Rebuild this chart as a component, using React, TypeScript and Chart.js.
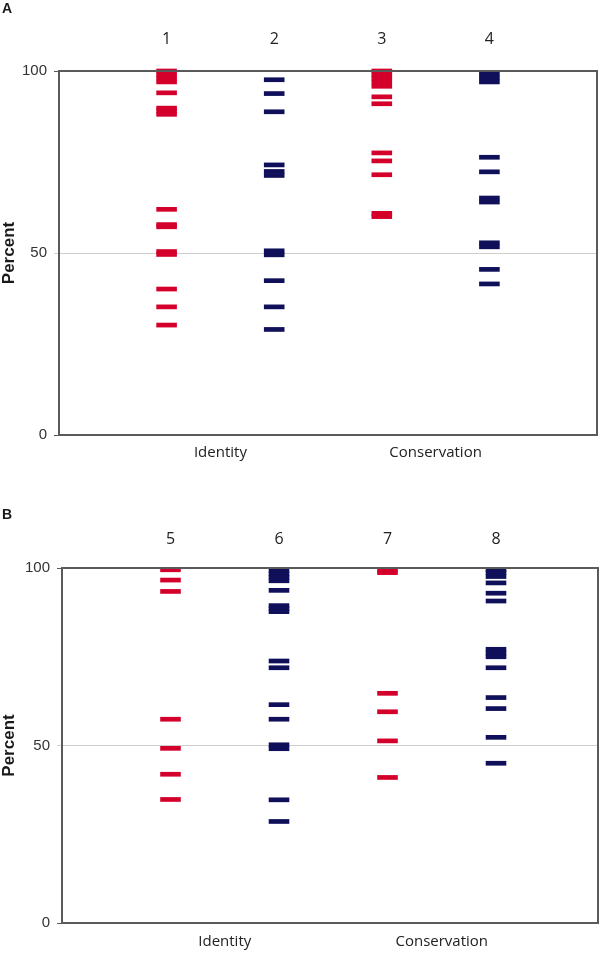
import React, { useEffect, useRef } from 'react';
import Chart from 'chart.js/auto';

// ---- data ----
const RED = '#d4002b';
const NAVY = '#10105a';

const col1 = [100, 99, 98, 97, 94.0, 89.8, 89.0, 88.1, 62.0, 57.8, 57.2, 50.4, 49.6, 40.1, 35.2, 30.2];
const col2 = [97.6, 93.8, 88.8, 74.2, 72.4, 71.3, 50.6, 49.5, 42.4, 35.2, 29.0];
const col3 = [100, 99, 98, 97, 95.8, 92.9, 91.0, 77.5, 75.3, 71.5, 60.9, 60.0];
const col4 = [99.2, 98.1, 97.0, 76.3, 72.3, 65.1, 64.0, 52.8, 51.7, 45.5, 41.5];

const col5 = [99.5, 96.6, 93.4, 57.4, 49.2, 41.9, 34.8];
const col6 = [99.3, 98.3, 97.4, 96.4, 93.7, 89.4, 88.55, 87.7, 73.8, 71.9, 61.5, 57.4, 50.2, 49.1, 34.7, 28.6];
const col7 = [99.5, 98.7, 64.7, 59.5, 51.3, 41.0];
const col8 = [99.5, 98.7, 97.6, 95.8, 92.9, 90.7, 77.1, 76.05, 75.0, 71.9, 63.5, 60.4, 52.3, 45.0];

const colPositions = [1, 2, 3, 4];
const colColors = [RED, NAVY, RED, NAVY];
const topLabelsA = ['1', '2', '3', '4'];
const topLabelsB = ['5', '6', '7', '8'];
const bottomLabels = ['Identity', 'Conservation'];
const bottomLabelPos = [1.5, 3.5];
const yTicks = [0, 50, 100];
const yTitle = 'Percent';

const SANS = "'Liberation Sans', Arial, sans-serif";
const HUM = "'Open Sans', 'Noto Sans', sans-serif";

type Cfg = {
  letter: string;
  letterY: number;
  yW: number;
  rightPad: number;
  topH: number;
  bottomH: number;
  xMin: number;
  xMax: number;
  topPad: number;
  bottomPad: number;
};

function Panel({ cols, topLabels, cfg }: { cols: number[][]; topLabels: string[]; cfg: Cfg }) {
  const ref = useRef<HTMLCanvasElement | null>(null);
  useEffect(() => {
    if (!ref.current) return;
    const framePlugin = {
      id: 'frameText',
      afterDatasetsDraw(chart: any) {
        const { ctx, chartArea } = chart;
        const { left, top, right, bottom } = chartArea;
        ctx.save();
        ctx.strokeStyle = '#5a5a5a';
        ctx.lineWidth = 2;
        ctx.strokeRect(left, top, right - left, bottom - top);
        ctx.restore();
      },
      afterDraw(chart: any) {
        const { ctx, chartArea } = chart;
        ctx.save();
        ctx.fillStyle = '#1a1a1a';
        ctx.font = `bold 14px ${SANS}`;
        ctx.textAlign = 'left';
        ctx.textBaseline = 'middle';
        ctx.fillText(cfg.letter, 2, cfg.letterY);
        ctx.translate(9, (chartArea.top + chartArea.bottom) / 2);
        ctx.rotate(-Math.PI / 2);
        ctx.textAlign = 'center';
        ctx.font = `bold 17px ${SANS}`;
        ctx.fillText(yTitle, 0, 0);
        ctx.restore();
      },
    };
    const datasets = cols.map((vals, i) => ({
      data: vals.map((v) => ({ x: colPositions[i], y: v })),
      pointStyle: 'line',
      pointRadius: 10.3,
      pointHoverRadius: 10.3,
      pointBorderWidth: 4.7,
      borderColor: colColors[i],
      backgroundColor: colColors[i],
      showLine: false,
      clip: false,
    }));
    const chart = new Chart(ref.current, {
      type: 'scatter',
      data: { datasets } as any,
      options: {
        animation: false,
        responsive: false,
        events: [],
        layout: { autoPadding: false, padding: { left: 0, right: cfg.rightPad, top: 0, bottom: 0 } },
        plugins: { legend: { display: false }, tooltip: { enabled: false } },
        scales: {
          x: {
            type: 'linear',
            position: 'bottom',
            min: cfg.xMin,
            max: cfg.xMax,
            grid: { display: false },
            border: { display: false },
            afterBuildTicks: (s: any) => {
              s.ticks = bottomLabelPos.map((v) => ({ value: v }));
            },
            afterFit: (s: any) => {
              s.height = cfg.bottomH;
            },
            ticks: {
              autoSkip: false,
              maxRotation: 0,
              padding: cfg.bottomPad,
              color: '#222',
              font: { family: HUM, size: 15 },
              callback: (_v: any, i: number) => bottomLabels[i],
            },
          },
          xTop: {
            type: 'linear',
            position: 'top',
            min: cfg.xMin,
            max: cfg.xMax,
            grid: { display: false },
            border: { display: false },
            afterBuildTicks: (s: any) => {
              s.ticks = colPositions.map((v) => ({ value: v }));
            },
            afterFit: (s: any) => {
              s.height = cfg.topH;
            },
            ticks: {
              autoSkip: false,
              maxRotation: 0,
              padding: cfg.topPad,
              color: '#222',
              font: { family: HUM, size: 16 },
              callback: (_v: any, i: number) => topLabels[i],
            },
          },
          y: {
            type: 'linear',
            min: 0,
            max: 100,
            border: { display: false },
            afterBuildTicks: (s: any) => {
              s.ticks = yTicks.map((v) => ({ value: v }));
            },
            afterFit: (s: any) => {
              s.width = cfg.yW;
            },
            grid: {
              color: (c: any) => (c.tick && c.tick.value === 50 ? '#cfcfcf' : 'rgba(0,0,0,0)'),
              tickColor: (c: any) => (c.tick && c.tick.value === 50 ? '#cfcfcf' : '#5a5a5a'),
              tickLength: 5,
              lineWidth: 1,
            },
            ticks: {
              padding: 7,
              color: '#333',
              font: { family: SANS, size: 15 },
              callback: (v: any) => String(v),
            },
          },
        },
      } as any,
      plugins: [framePlugin as any],
    });
    return () => chart.destroy();
  }, []);
  return <canvas ref={ref} width={600} height={477} style={{ display: 'block' }} />;
}

const cfgA: Cfg = {
  letter: 'A', letterY: 9, yW: 59, rightPad: 3, topH: 71, bottomH: 42,
  xMin: 0, xMax: 5, topPad: 14, bottomPad: 1,
};
const cfgB: Cfg = {
  letter: 'B', letterY: 38, yW: 62, rightPad: 2, topH: 91, bottomH: 31,
  xMin: 0, xMax: 4.94, topPad: 11, bottomPad: 2,
};

export default function App() {
  return (
    <div style={{ position: 'absolute', left: 0, top: 0, width: 600, height: 954, background: '#fff' }}>
      <Panel cols={[col1, col2, col3, col4]} topLabels={topLabelsA} cfg={cfgA} />
      <Panel cols={[col5, col6, col7, col8]} topLabels={topLabelsB} cfg={cfgB} />
    </div>
  );
}
